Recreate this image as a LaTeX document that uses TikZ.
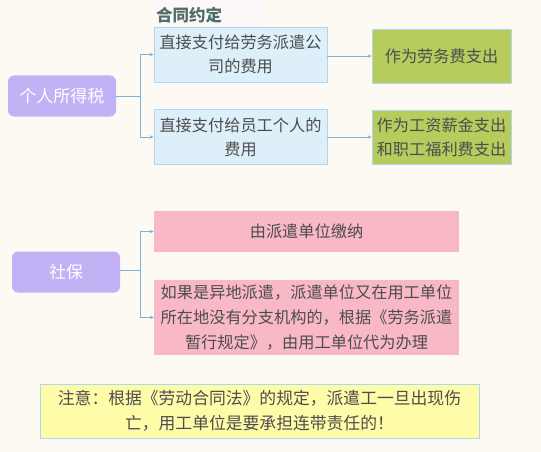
\documentclass[tikz,border=0pt]{standalone}
\usepackage{fontspec}
\setmainfont{Noto Sans CJK SC}
\usetikzlibrary{arrows.meta}
\definecolor{bgc}{HTML}{FDFAF3}
\definecolor{txt}{HTML}{4D4D4D}
\definecolor{purp}{HTML}{C3B1F6}
\definecolor{bluef}{HTML}{DDEFF8}
\definecolor{blued}{HTML}{AED6EE}
\definecolor{greenf}{HTML}{B6CC5C}
\definecolor{pinkf}{HTML}{F9B8C5}
\definecolor{yelf}{HTML}{FEFBA9}
\definecolor{conn}{HTML}{7DB4D6}
\definecolor{lab}{HTML}{4F6E6A}
\begin{document}
\begin{tikzpicture}[x=1pt,y=-1pt,
  every node/.style={font=\fontsize{16.2}{24}\selectfont, text=txt, inner sep=0pt},
  root/.style={rectangle, rounded corners=6pt, fill=purp, text=white, minimum width=108pt, minimum height=41pt, font=\fontsize{17}{24}\selectfont},
  bluebox/.style={rectangle, fill=bluef, draw=blued, line width=0.8pt, minimum width=173pt, minimum height=55pt, align=center},
  greenbox/.style={rectangle, fill=greenf, draw=blued, line width=0.8pt, minimum width=139pt, minimum height=54pt, align=center},
  pinkbox/.style={rectangle, fill=pinkf, minimum width=305pt, align=center},
  link/.style={draw=conn, line width=0.7pt, -{Stealth[length=4pt,width=3.5pt]}},
  plain/.style={draw=conn, line width=0.7pt}
]
\useasboundingbox (0,0) rectangle (541,452);
\fill[bgc] (0,0) rectangle (541,452);
% faint label background
\fill[pinkf!12] (155,0) rectangle (262,27);
\node[font=\bfseries\fontsize{16.5}{18}\selectfont, text=lab, anchor=west] (lbl) at (156,15) {合同约定};

\node[root] (r1) at (62,96) {个人所得税};
\node[bluebox] (a1) at (240.5,54.5) {直接支付给劳务派遣公\\司的费用};
\node[bluebox] (a2) at (240.5,137) {直接支付给员工个人的\\费用};
\node[greenbox] (g1) at (441.5,56) {作为劳务费支出};
\node[greenbox] (g2) at (441.5,137) {作为工资薪金支出\\和职工福利费支出};

\coordinate (j1) at (140,96);
\draw[plain] (r1.east) -- (j1);
\draw[link] (j1) |- (a1.west);
\draw[link] (j1) |- (a2.west);
\draw[link] (a1.east |- g1.west) -- (g1.west);
\draw[link] (a2.east) -- (g2.west);

\node[root] (r2) at (66,272) {社保};
\node[pinkbox, minimum height=41pt] (p1) at (306.5,231.5) {由派遣单位缴纳};
\node[pinkbox, minimum height=75pt, font=\fontsize{16.2}{25}\selectfont] (p2) at (306.5,317.5) {如果是异地派遣，派遣单位又在用工单位\\所在地没有分支机构的，根据《劳务派遣\\暂行规定》，由用工单位代为办理};

\coordinate (j2) at (140,270);
\draw[plain] (r2.east |- j2) -- (j2);
\draw[link] (j2) |- (p1.west);
\draw[link] (j2) |- (p2.west);

\node[rectangle, fill=yelf, draw=blued, line width=0.8pt, minimum width=439pt, minimum height=54pt, align=center, font=\fontsize{16.8}{25}\selectfont] (note) at (259.5,411) {注意：根据《劳动合同法》的规定，派遣工一旦出现伤\\亡，用工单位是要承担连带责任的！};
\end{tikzpicture}
\end{document}
